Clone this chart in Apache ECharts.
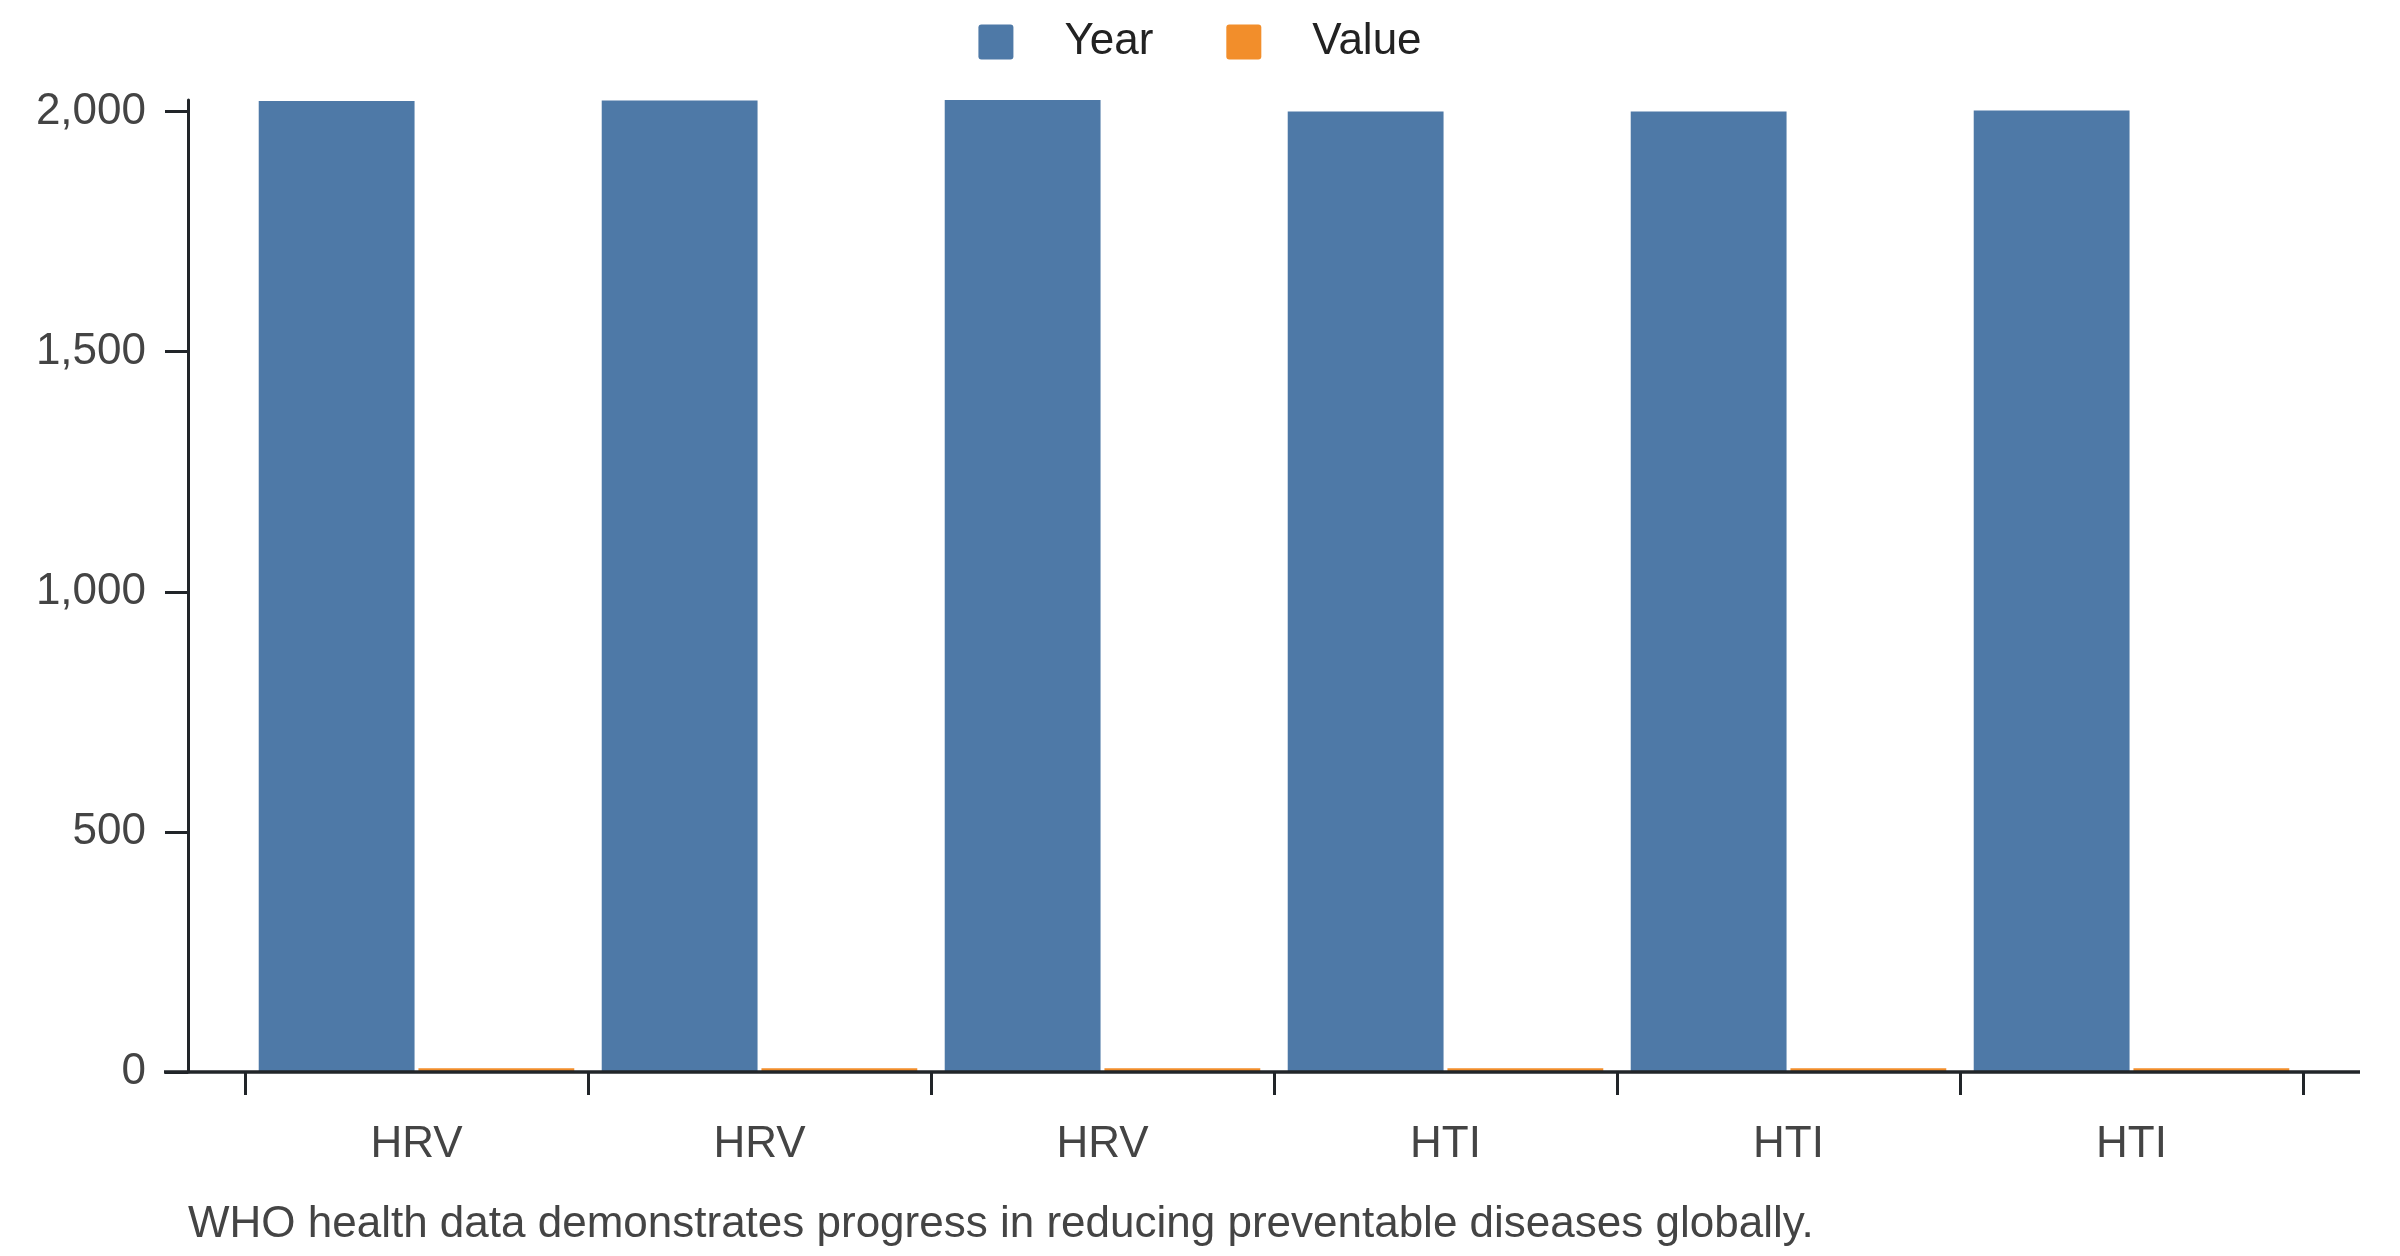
<!DOCTYPE html>
<html>
<head>
<meta charset="utf-8">
<title>WHO health data</title>
<script src="https://cdn.jsdelivr.net/npm/echarts@6/dist/echarts.min.js"></script>
<style>
  html, body { margin: 0; padding: 0; background: #fff; }
  #main { width: 2400px; height: 1256px; }
</style>
</head>
<body>
<div id="main"></div>
<script>
// 数据
var categories = ['HRV', 'HRV', 'HRV', 'HTI', 'HTI', 'HTI'];
var yearValues = [2022, 2023, 2024, 2000, 2000, 2002];
var valueValues = [8, 8, 8, 8, 8, 8];
var yTicks = [0, 500, 1000, 1500, 2000];
var caption = 'WHO health data demonstrates progress in reducing preventable diseases globally.';

var font = "'Liberation Sans', Arial, sans-serif";
var axisColor = '#212529';
// 图例小方块（小圆角）
var squareIcon = 'path://M3,0 L32,0 Q35,0 35,3 L35,32 Q35,35 32,35 L3,35 Q0,35 0,32 L0,3 Q0,0 3,0 Z';

var myChart = echarts.init(document.getElementById('main'));

var option = {
    animation: false,
    textStyle: { fontFamily: font },
    title: {
        text: caption,
        left: 183,
        top: 1198,
        textStyle: { fontSize: 44, fontWeight: 'normal', color: '#444', fontFamily: font }
    },
    legend: {
        data: ['Year', 'Value'],
        top: 15,
        left: 'center',
        icon: squareIcon,
        itemWidth: 35,
        itemHeight: 35,
        itemGap: 73,
        textStyle: { fontSize: 44, color: '#222', padding: [0, 0, 0, 46], fontFamily: font }
    },
    grid: { left: 245, right: 97, top: 100, bottom: 184 },
    xAxis: {
        type: 'category',
        data: categories,
        boundaryGap: true,
        axisLine: { show: false },
        axisTick: { show: true, interval: 0, length: 23, lineStyle: { color: axisColor, width: 3 } },
        axisLabel: { interval: 0, margin: 51, fontSize: 44, color: '#444', fontFamily: font },
        splitLine: { show: false }
    },
    yAxis: {
        type: 'value',
        min: 0,
        max: 'dataMax',
        interval: 500,
        offset: 57,
        axisLine: { show: true, lineStyle: { color: axisColor, width: 3 } },
        axisTick: { show: true, length: 23, lineStyle: { color: axisColor, width: 3 } },
        axisLabel: {
            margin: 42,
            fontSize: 44,
            color: '#444',
            fontFamily: font,
            showMaxLabel: false,
            formatter: function (v) {
                return yTicks.indexOf(v) > -1 ? v.toLocaleString('en-US') : '';
            }
        },
        splitLine: { show: false }
    },
    series: [
        {
            name: 'Year',
            type: 'bar',
            data: yearValues,
            barCategoryGap: '8%',
            barGap: '2.5%',
            itemStyle: { color: '#4e79a7' }
        },
        {
            name: 'Value',
            type: 'bar',
            data: valueValues,
            itemStyle: { color: '#f28e2b' }
        }
    ]
};

myChart.setOption(option);

// x轴线（比刻度范围长一点，从y轴刻度左端开始）
var baseY = myChart.convertToPixel({ yAxisIndex: 0 }, 0);
myChart.setOption({
    graphic: [{
        type: 'line',
        z: 100,
        shape: { x1: 164, y1: baseY, x2: 2360, y2: baseY },
        style: { stroke: axisColor, lineWidth: 3.5 }
    }]
});
</script>
</body>
</html>
